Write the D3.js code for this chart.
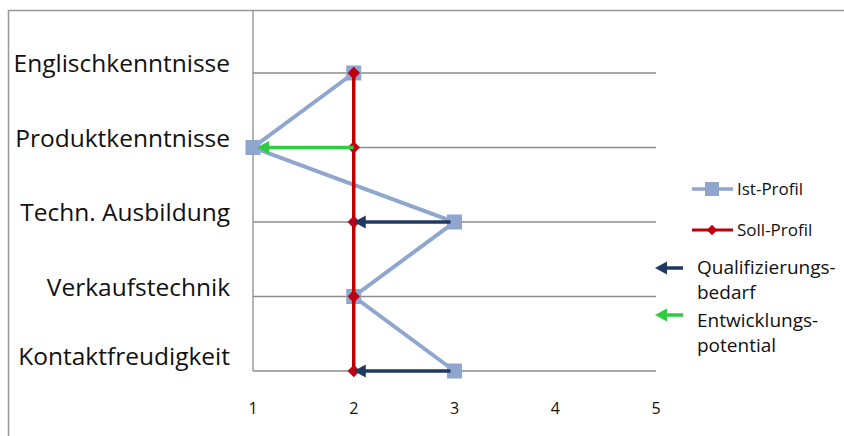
<!DOCTYPE html>
<html>
<head>
<meta charset="utf-8">
<script src="https://cdn.jsdelivr.net/npm/d3@7"></script>
<style>
  body { margin: 0; background: #fff; }
  text { font-family: "Open Sans", sans-serif; fill: #111; }
</style>
</head>
<body>
<div id="chart"></div>
<script>
// categories top to bottom
var categories = ['Englischkenntnisse', 'Produktkenntnisse', 'Techn. Ausbildung', 'Verkaufstechnik', 'Kontaktfreudigkeit'];
var istProfil = [2, 1, 3, 2, 3];
var sollProfil = [2, 2, 2, 2, 2];
var xTicks = [1, 2, 3, 4, 5];
var legendSeries = ['Ist-Profil', 'Soll-Profil'];
var legendArrows = [['Qualifizierungs-', 'bedarf'], ['Entwicklungs-', 'potential']];

var W = 844, H = 436;
var blue = '#8fa6cf', red = '#c00000', navy = '#1f3a60', green = '#2ecc40';

var svg = d3.select('#chart').append('svg:svg').attr('width', W).attr('height', H);

// frame (only left and top edges visible)
svg.append('path').attr('d', 'M8.5,' + H + 'V10.5H' + W)
    .attr('fill', 'none').attr('stroke', '#999').attr('stroke-width', 1.5);

var x = d3.scaleLinear().domain([1, 5]).range([253, 656]);
var y = d3.scalePoint().domain(categories).range([73, 371]);

// gridlines at each category
svg.append('g').selectAll('line').data(categories).enter().append('line')
    .attr('x1', x(1)).attr('x2', x(5))
    .attr('y1', function(d) { return y(d); }).attr('y2', function(d) { return y(d); })
    .attr('stroke', '#8c8c8c').attr('stroke-width', 1.3);

// vertical axis line
svg.append('line').attr('x1', x(1)).attr('x2', x(1)).attr('y1', 10).attr('y2', y(categories[4]))
    .attr('stroke', '#8c8c8c').attr('stroke-width', 1.3);

// category labels
svg.append('g').selectAll('text').data(categories).enter().append('text')
    .attr('x', 230).attr('y', function(d, i) { return y(d) - (i == 4 ? 6 : 1); })
    .attr('text-anchor', 'end').style('font-size', '24.5px')
    .text(function(d) { return d; });

// x tick labels
svg.append('g').selectAll('text').data(xTicks).enter().append('text')
    .attr('x', function(d) { return x(d); }).attr('y', 414)
    .attr('text-anchor', 'middle').style('font-size', '16px')
    .text(function(d) { return d; });

var line = d3.line().x(function(d) { return x(d.v); }).y(function(d) { return y(d.c); });
var ist = categories.map(function(c, i) { return {c: c, v: istProfil[i]}; });
var soll = categories.map(function(c, i) { return {c: c, v: sollProfil[i]}; });

// Ist-Profil
svg.append('path').datum(ist).attr('d', line)
    .attr('fill', 'none').attr('stroke', blue).attr('stroke-width', 4);
svg.append('g').selectAll('rect').data(ist).enter().append('rect')
    .attr('x', function(d) { return x(d.v) - 7.5; }).attr('y', function(d) { return y(d.c) - 7.5; })
    .attr('width', 15).attr('height', 15).attr('fill', blue);

// Soll-Profil
svg.append('path').datum(soll).attr('d', line)
    .attr('fill', 'none').attr('stroke', red).attr('stroke-width', 3.5);
var diamond = d3.symbol().type(d3.symbolDiamond2).size(90);
svg.append('g').selectAll('path').data(soll).enter().append('path')
    .attr('d', diamond)
    .attr('transform', function(d) { return 'translate(' + x(d.v) + ',' + y(d.c) + ')'; })
    .attr('fill', '#c00010').attr('stroke', '#a00010').attr('stroke-width', 0.5);

// arrows from Ist/Soll differences
function arrow(g, x1, x2, yy, color) {
  g.append('line').attr('x1', x1).attr('x2', x2 + 8).attr('y1', yy).attr('y2', yy)
      .attr('stroke', color).attr('stroke-width', 3.5);
  g.append('path').attr('d', 'M' + x2 + ',' + yy + 'l12,-6.5l0,13z').attr('fill', color);
}
var arrows = svg.append('g');
ist.forEach(function(d, i) {
  var s = soll[i];
  if (d.v < s.v) arrow(arrows, x(s.v), x(d.v) + 4, y(d.c), green);
  else if (d.v > s.v) arrow(arrows, x(d.v) - 4, x(s.v), y(d.c), navy);
});

// legend
var leg = svg.append('g');
legendSeries.forEach(function(name, i) {
  var ly = 189 + i * 41;
  leg.append('line').attr('x1', 692).attr('x2', 733).attr('y1', ly).attr('y2', ly)
      .attr('stroke', i ? red : blue).attr('stroke-width', i ? 3 : 3.5);
  if (i) leg.append('path').attr('d', d3.symbol().type(d3.symbolDiamond2).size(70))
      .attr('transform', 'translate(712,' + ly + ')').attr('fill', '#c00010');
  else leg.append('rect').attr('x', 705).attr('y', ly - 7).attr('width', 14).attr('height', 14).attr('fill', blue);
  leg.append('text').attr('x', 737).attr('y', ly + 6).style('font-size', '17px').text(name);
});
legendArrows.forEach(function(lines, i) {
  arrow(leg, 683, 655, 268 + i * 47, i ? green : navy);
  lines.forEach(function(t, j) {
    leg.append('text').attr('x', 697).attr('y', 274 + i * 53 + j * 25)
        .style('font-size', '19px').text(t);
  });
});
</script>
</body>
</html>
